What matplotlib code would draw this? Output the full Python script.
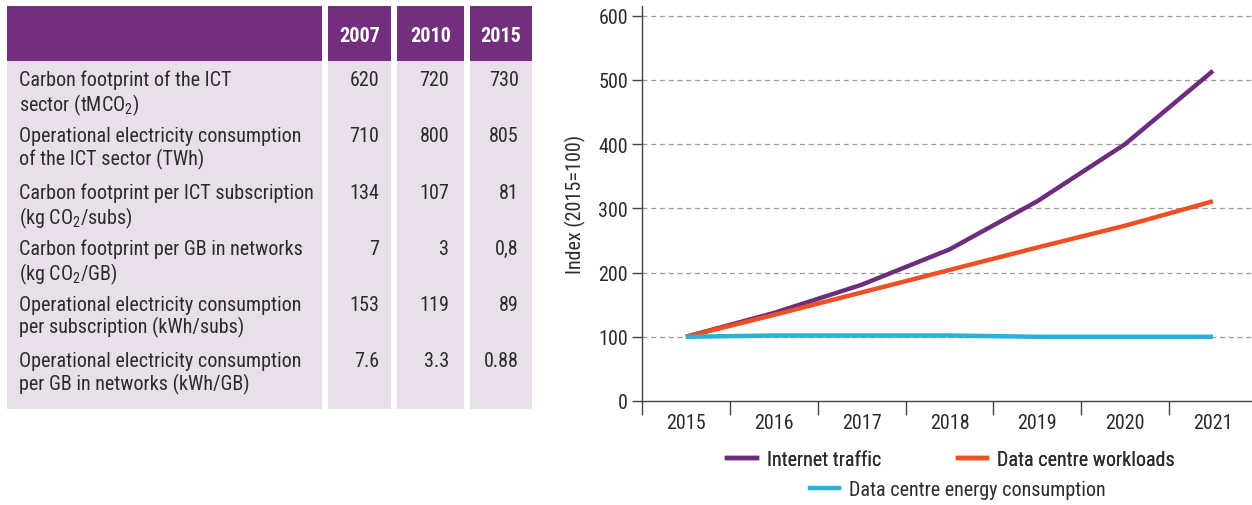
import matplotlib
matplotlib.use("Agg")
import matplotlib.pyplot as plt
from matplotlib.patches import Rectangle
from matplotlib.lines import Line2D
import numpy as np

# ---------------- data ----------------
table_years = ["2007", "2010", "2015"]
table_labels = [
    "Carbon footprint of the ICT\nsector (tMCO$_2$)",
    "Operational electricity consumption\nof the ICT sector (TWh)",
    "Carbon footprint per ICT subscription\n(kg CO$_2$/subs)",
    "Carbon footprint per GB in networks\n(kg CO$_2$/GB)",
    "Operational electricity consumption\nper subscription (kWh/subs)",
    "Operational electricity consumption\nper GB in networks (kWh/GB)",
]
table_2007 = ["620", "710", "134", "7", "153", "7.6"]
table_2010 = ["720", "800", "107", "3", "119", "3.3"]
table_2015 = ["730", "805", "81", "0,8", "89", "0.88"]

years = ["2015", "2016", "2017", "2018", "2019", "2020", "2021"]
internet_traffic = [100, 137, 181, 236, 311, 400, 514]
dc_workloads = [100, 134, 169, 204, 239, 273, 311]
dc_energy = [100, 102, 102, 102, 100, 100, 100]
series_names = ["Internet traffic", "Data centre workloads", "Data centre energy consumption"]
y_ticks = [0, 100, 200, 300, 400, 500, 600]

# ---------------- style ----------------
FONT = ["Roboto Condensed", "DejaVu Sans"]
plt.rcParams["font.family"] = FONT
plt.rcParams["mathtext.fontset"] = "custom"
plt.rcParams["mathtext.rm"] = "Roboto Condensed"
plt.rcParams["mathtext.it"] = "Roboto Condensed"
plt.rcParams["mathtext.default"] = "regular"

PURPLE = "#722F7E"
CELL = "#E9DFEA"
TXT = "#2b2b2b"
C_TRAFFIC = "#6E2C7F"
C_WORK = "#F04E23"
C_ENERGY = "#27B2D8"
FS = 14.5

W, H = 1252, 506
fig = plt.figure(figsize=(W / 100, H / 100), dpi=100)


def fx(px):
    return px / W


def fy(py):
    return 1 - py / H


# ---------------- table ----------------
cols = [(7, 322), (328, 391), (397, 464), (470, 532)]
head_top, head_bot = 7, 62
body_bot = 410
for (x0, x1) in cols:
    fig.patches.append(Rectangle((fx(x0), fy(head_bot)), fx(x1 - x0), (head_bot - head_top) / H,
                                 transform=fig.transFigure, facecolor=PURPLE, edgecolor="none"))
    fig.patches.append(Rectangle((fx(x0), fy(body_bot)), fx(x1 - x0), (body_bot - head_bot) / H,
                                 transform=fig.transFigure, facecolor=CELL, edgecolor="none"))

for i, yr in enumerate(table_years):
    x0, x1 = cols[i + 1]
    fig.text(fx((x0 + x1) / 2), fy(36), yr, ha="center", va="center", color="white",
             fontsize=FS, fontweight="bold")

row_top0 = 71
row_h = 56.3
value_cols = [table_2007, table_2010, table_2015]
right_edges = [379, 449, 519]
for r, lab in enumerate(table_labels):
    ytop = row_top0 + r * row_h
    fig.text(fx(19), fy(ytop), lab, ha="left", va="top", color=TXT, fontsize=FS,
             linespacing=1.13)
    for c in range(3):
        fig.text(fx(right_edges[c]), fy(ytop), value_cols[c][r], ha="right", va="top",
                 color=TXT, fontsize=FS)

# ---------------- line chart ----------------
ax_left, ax_right = 642, 1252
ax_top, ax_bot = 7, 402
ax = fig.add_axes([fx(ax_left), fy(ax_bot), fx(ax_right - ax_left), (ax_bot - ax_top) / H])
x = np.arange(len(years))
ax.plot(x, internet_traffic, color=C_TRAFFIC, lw=3.2, solid_capstyle="butt", zorder=3)
ax.plot(x, dc_workloads, color=C_WORK, lw=3.2, solid_capstyle="butt", zorder=4)
ax.plot(x, dc_energy, color=C_ENERGY, lw=3.2, solid_capstyle="butt", zorder=5)

ax.set_xlim(-0.5, 6 + 39 / 87.8)
ax.set_ylim(0, 615)
for s in ["top", "right"]:
    ax.spines[s].set_visible(False)
for s in ["left", "bottom"]:
    ax.spines[s].set_color("#444444")
    ax.spines[s].set_linewidth(1.0)

ax.set_yticks(y_ticks)
ax.set_yticklabels([str(v) for v in y_ticks])
for v in y_ticks[1:]:
    ax.axhline(v, color="#9a9a9a", lw=0.9, ls=(0, (4, 3)), zorder=1)

ax.set_xticks(np.arange(-0.5, 6.0, 1.0))
ax.set_xticklabels([])
ax.set_xticks(x, minor=True)
ax.set_xticklabels(years, minor=True)
ax.tick_params(axis="x", which="major", length=10, width=1.0, color="#444444", direction="out")
ax.tick_params(axis="x", which="minor", length=0, pad=9, labelsize=FS, labelcolor=TXT)
ax.tick_params(axis="y", length=7, width=1.0, color="#444444", pad=3, labelsize=FS, labelcolor=TXT)
ax.set_ylabel("Index (2015=100)", fontsize=FS, color=TXT, labelpad=9)

h = [Line2D([], [], color=c, lw=3.2) for c in (C_TRAFFIC, C_WORK, C_ENERGY)]
leg1 = fig.legend(h[:2], series_names[:2], loc="center", bbox_to_anchor=(fx(951), fy(461)),
                  ncol=2, frameon=False, fontsize=FS, handlelength=1.45, columnspacing=3.8,
                  handletextpad=0.5, labelcolor=TXT)
leg2 = fig.legend(h[2:], series_names[2:], loc="center", bbox_to_anchor=(fx(958), fy(491)),
                  frameon=False, fontsize=FS, handlelength=1.45, handletextpad=0.5, labelcolor=TXT)
fig.add_artist(leg1)

fig.savefig("out.png", dpi=100)
